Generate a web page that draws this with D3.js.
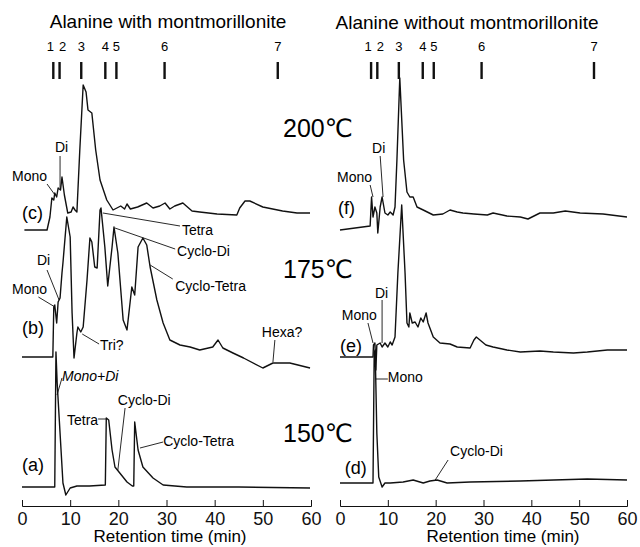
<!DOCTYPE html>
<html>
<head>
<meta charset="utf-8">
<script src="https://cdn.jsdelivr.net/npm/d3@7"></script>
<style>
  body { margin: 0; background: #fff; }
  svg { display: block; font-family: "Liberation Sans", Arial, "DejaVu Sans", sans-serif; }
</style>
</head>
<body>
<div id="chart"></div>
<script>
// chromatograms of alanine heated with / without montmorillonite
// signal is in arbitrary units, measured from each trace's own baseline

// standards 1-7 (retention time, min)
const stdLabels = ["1", "2", "3", "4", "5", "6", "7"];
const stdTimes = [6.5, 7.8, 12.3, 17.3, 19.6, 29.6, 53.1];

const xTicks = [0, 10, 20, 30, 40, 50, 60];
const temps = ["200", "175", "150"];
const titles = ["Alanine with montmorillonite", "Alanine without montmorillonite"];

// (a) 150 C with clay
const timeA = [0, 6.4, 6.8, 7.05, 7.3, 7.9, 8.5, 9.1, 10.0, 11.4, 14.0, 17.3, 17.5, 18.0, 18.7, 19.3, 20.3, 21.8, 22.9, 23.2, 23.4, 24.1, 25.1, 27.2, 29.3, 34.2, 45, 59.8];
const sigA = [0, 0, 0, 135, 104, 54, 4, -8, -1, 1, 1, 2, 69, 67, 37, 20, 14, 5, 1, 1, 65, 37, 20, 9, 2, 0, 0, -1];

// (b) 175 C with clay
const timeB = [0, 6.4, 6.6, 6.8, 7.2, 7.5, 7.9, 8.3, 8.5, 9.3, 10.0, 10.4, 10.8, 11.4, 11.6, 12.2, 12.7, 13.5, 14.1, 14.5, 15.1, 15.6, 16.2, 16.4, 17.2, 17.8, 18.7, 19.1, 19.9, 21.0, 21.8, 22.8, 23.4, 24.1, 25.1, 25.9, 26.6, 28.0, 29.3, 30.7, 32.8, 34.9, 36.9, 39.6, 40.7, 41.7, 43.8, 46.0, 50.0, 52.1, 55.6, 59.8];
const sigB = [0, 0, 50, 52, 34, 55, 59, 84, 94, 140, 120, 44, -1, 24, 30, 25, 30, 77, 119, 115, 90, 89, 147, 149, 110, 71, 110, 130, 104, 37, 27, 70, 62, 110, 119, 112, 90, 57, 34, 17, 12, 10, 7, 10, 17, 9, 4, -1, -11, -6, -6, -11];

// (c) 200 C with clay
const timeC = [0.5, 5.2, 5.8, 6.2, 6.6, 6.8, 7.2, 7.5, 8.0, 8.3, 8.8, 9.5, 10.2, 10.6, 11.0, 11.4, 12.0, 12.7, 13.3, 13.7, 14.5, 15.3, 16.2, 17.6, 18.9, 20.5, 21.3, 21.8, 22.5, 24.0, 25.9, 27.2, 28.6, 29.7, 30.7, 31.7, 33.4, 35.3, 36.9, 40.5, 44.6, 45.2, 46.3, 47.3, 50.0, 54.1, 57.1, 59.8];
const sigC = [0, 0, 13, 32, 30, 37, 33, 42, 40, 53, 35, 17, 18, 23, 20, 18, 80, 145, 138, 120, 117, 80, 50, 30, 20, 24, 21, 26, 21, 23, 27, 22, 24, 27, 21, 24, 27, 19, 18, 16, 15, 22, 29, 29, 23, 19, 17, 17];

// (d) 150 C without clay
const timeD = [0, 6.9, 7.15, 7.35, 7.7, 8.1, 8.8, 9.4, 10.5, 13.2, 15.3, 17.4, 18.8, 20.3, 22.4, 27.2, 37.7, 51.7, 60];
const sigD = [0, 0, 130, 133, 50, 6, -4, 0, 0, 1, 3, 0, 2, 3, 0, 1, 2, 4, 3];

// (e) 175 C without clay
const timeE = [0, 6.9, 7.0, 7.3, 7.5, 7.7, 8.4, 8.8, 9.4, 10.0, 10.5, 10.9, 11.5, 12.1, 12.9, 13.6, 14.0, 14.4, 14.6, 15.1, 15.7, 16.3, 16.9, 17.4, 18.0, 18.4, 19.5, 20.9, 23.0, 24.5, 27.2, 28.0, 28.5, 30.5, 32.0, 34.9, 37.7, 41.8, 44.6, 48.8, 51.7, 55.9, 60];
const sigE = [0, 0, 12, 14, -13, 12, 14, 10, 14, 10, 15, 12, 20, 84, 152, 84, 34, 30, 44, 34, 35, 30, 39, 35, 44, 34, 20, 14, 13, 10, 9, 17, 20, 12, 10, 7, 5, 6, 5, 4, 5, 7, 7];

// (f) 200 C without clay
const timeF = [0, 6.3, 6.6, 6.9, 7.3, 7.7, 7.9, 8.4, 8.8, 9.4, 10.0, 10.5, 11.1, 11.5, 11.9, 12.5, 13.3, 14.0, 14.6, 15.3, 16.1, 17.4, 19.5, 21.5, 23.0, 24.5, 25.7, 28.0, 30.8, 32.0, 34.9, 37.7, 39.3, 41.8, 44.6, 47.1, 50.2, 55.0, 60];
const sigF = [0, 4, 33, 13, 23, 17, -3, 23, 33, 17, 15, 18, 15, 23, 70, 152, 70, 38, 33, 33, 23, 20, 15, 16, 20, 18, 17, 16, 15, 17, 14, 13, 11, 17, 17, 19, 17, 16, 13];

// vertical stacking offset of each trace
const offsets = { a: 19, b: 149, c: 276, d: 23, e: 149, f: 276 };

const width = 640, height = 547;
const svg = d3.select("#chart").append("svg")
    .attr("width", width)
    .attr("height", height);
svg.append("rect").attr("width", width).attr("height", height).attr("fill", "#fff");

const y = d3.scaleLinear().domain([0, 450]).range([506, 56]);
const xL = d3.scaleLinear().domain([0, 60]).range([22, 311]);
const xR = d3.scaleLinear().domain([0, 60]).range([340, 627]);

// labels: position in (min, signal) of the panel
const notesL = [
    { text: "Mono", t: 5.2, s: 325, anchor: "end", lead: [[5.2, 322], [6.85, 311]] },
    { text: "Di", t: 6.85, s: 354, lead: [[7.9, 350], [7.9, 318]] },
    { text: "(c)", t: 0, s: 287, big: true },
    { text: "Tetra", t: 33.2, s: 271, lead: [[16.8, 293], [32.8, 280]] },
    { text: "Cyclo-Di", t: 32.2, s: 250, lead: [[19.3, 278], [31.8, 257]] },
    { text: "Cyclo-Tetra", t: 31.8, s: 215, lead: [[26.6, 241], [31.3, 227]] },
    { text: "Di", t: 3.1, s: 241, lead: [[5.2, 236], [7.7, 206]] },
    { text: "Mono", t: 5.2, s: 212, anchor: "end", lead: [[3.4, 209], [6.85, 199]] },
    { text: "(b)", t: 0, s: 172, big: true },
    { text: "Tri?", t: 16.2, s: 156, lead: [[12.5, 172], [16.0, 162]] },
    { text: "Hexa?", t: 49.8, s: 169, lead: [[52.5, 166], [52.1, 144]] },
    { text: "Mono+Di", t: 8.3, s: 125, italic: true, lead: [[8.3, 128], [7.27, 111]] },
    { text: "Tetra", t: 15.8, s: 81, anchor: "end", lead: [[15.8, 87], [17.6, 87]] },
    { text: "Cyclo-Di", t: 19.9, s: 101, lead: [[21.4, 98], [19.9, 36]] },
    { text: "Cyclo-Tetra", t: 29.3, s: 60, lead: [[29.3, 64], [24.5, 58]] },
    { text: "(a)", t: 0, s: 35, big: true }
];
const notesR = [
    { text: "Mono", t: 6.7, s: 324, anchor: "end", lead: [[6.3, 321], [6.9, 309]] },
    { text: "Di", t: 6.7, s: 353, lead: [[8.4, 350], [9.0, 309]] },
    { text: "(f)", t: -0.4, s: 292, big: true },
    { text: "Di", t: 7.3, s: 208, lead: [[8.8, 206], [8.8, 163]] },
    { text: "Mono", t: 7.7, s: 186, anchor: "end", lead: [[5.85, 183], [6.9, 163]] },
    { text: "(e)", t: 0, s: 154, big: true },
    { text: "Mono", t: 10.0, s: 124, lead: [[7.5, 127], [10.0, 127]] },
    { text: "Cyclo-Di", t: 23.0, s: 50, lead: [[22.6, 46], [19.9, 26]] },
    { text: "(d)", t: 1.0, s: 32, big: true }
];

const panels = [
    { x: xL, title: titles[0], cx: 168, ty: 28, labelX: 170, notes: notesL,
      traces: [["a", timeA, sigA], ["b", timeB, sigB], ["c", timeC, sigC]] },
    { x: xR, title: titles[1], cx: 467, ty: 29, labelX: 503, notes: notesR,
      traces: [["d", timeD, sigD], ["e", timeE, sigE], ["f", timeF, sigF]] }
];

panels.forEach(p => {
    const g = svg.append("g");

    // title
    g.append("text")
        .attr("x", p.cx).attr("y", p.ty)
        .attr("text-anchor", "middle")
        .style("font-size", "19px")
        .text(p.title);

    // standard markers
    g.selectAll(".std")
        .data(stdTimes)
        .enter().append("line")
        .attr("x1", d => p.x(d)).attr("x2", d => p.x(d))
        .attr("y1", 62).attr("y2", 79)
        .attr("stroke", "#111").attr("stroke-width", 2.4);

    g.selectAll(".stdlab")
        .data(stdTimes)
        .enter().append("text")
        .attr("x", (d, i) => p.x(d) + (i === 0 ? -3 : i === 1 ? 3 : 0))
        .attr("y", 51)
        .attr("text-anchor", "middle")
        .style("font-size", "13px")
        .text((d, i) => stdLabels[i]);

    // traces
    p.traces.forEach(([key, ts, vs]) => {
        const pts = ts.map((t, i) => [t, vs[i] + offsets[key]]);
        const line = d3.line().x(d => p.x(d[0])).y(d => y(d[1]));
        g.append("path")
            .datum(pts)
            .attr("d", line)
            .attr("fill", "none")
            .attr("stroke", "#111")
            .attr("stroke-width", 1.4)
            .attr("stroke-linejoin", "round");
    });

    // annotations
    p.notes.forEach(n => {
        if (n.lead) {
            g.append("line")
                .attr("x1", p.x(n.lead[0][0])).attr("y1", y(n.lead[0][1]))
                .attr("x2", p.x(n.lead[1][0])).attr("y2", y(n.lead[1][1]))
                .attr("stroke", "#111").attr("stroke-width", 0.9);
        }
        g.append("text")
            .attr("x", p.x(n.t)).attr("y", y(n.s))
            .attr("text-anchor", n.anchor || "start")
            .style("font-size", n.big ? "18px" : "14px")
            .style("font-style", n.italic ? "italic" : "normal")
            .text(n.text);
    });

    // x axis, ticks pointing up
    const ax = g.append("g")
        .attr("transform", `translate(0,${y(0)})`)
        .call(d3.axisBottom(p.x).tickValues(xTicks).tickFormat(d3.format("d"))
            .tickSizeInner(-6).tickSizeOuter(-6).tickPadding(6));
    ax.selectAll("text").style("font-size", "18px").attr("fill", "#111")
        .style("font-family", "'Liberation Sans', Arial, sans-serif");
    ax.selectAll("line,path").attr("stroke", "#111");

    g.append("text")
        .attr("x", p.labelX).attr("y", 542)
        .attr("text-anchor", "middle")
        .style("font-size", "17px")
        .text("Retention time (min)");
});

// temperature labels between the panels
const tempY = [137, 278, 442];
svg.selectAll(".temp")
    .data(temps)
    .enter().append("text")
    .attr("x", 283)
    .attr("y", (d, i) => tempY[i])
    .style("font-size", "25px")
    .text(d => d + "℃");
</script>
</body>
</html>
